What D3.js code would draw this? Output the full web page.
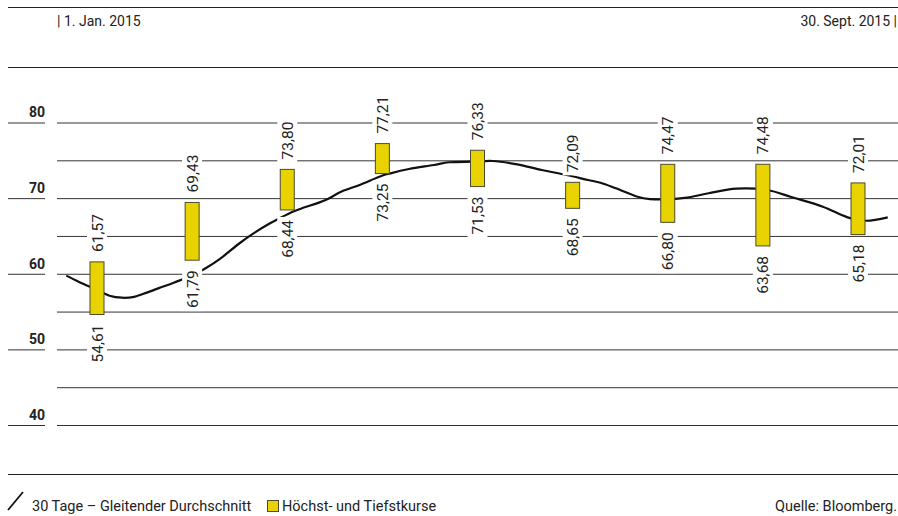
<!DOCTYPE html>
<html>
<head>
<meta charset="utf-8">
<script src="https://cdn.jsdelivr.net/npm/d3@7"></script>
<style>
  body { margin: 0; background: #fff; }
  text { font-family: Roboto, "Noto Sans", sans-serif; fill: #222; }
</style>
</head>
<body>
<script>

var width  = 898;
var height = 516;

// monthly high / low prices
var months = ['Jan', 'Feb', 'Mar', 'Apr', 'May', 'Jun', 'Jul', 'Aug', 'Sep'];
var highs  = [61.57, 69.43, 73.80, 77.21, 76.33, 72.09, 74.47, 74.48, 72.01];
var lows   = [54.61, 61.79, 68.44, 73.25, 71.53, 68.65, 66.80, 63.68, 65.18];

// 30 day moving average
var avgDates = ['2015-01-04', '2015-01-08', '2015-01-14', '2015-01-18', '2015-01-22', '2015-01-26',
                '2015-01-29', '2015-02-03', '2015-02-08', '2015-02-14', '2015-02-18', '2015-02-23',
                '2015-03-01', '2015-03-06', '2015-03-11', '2015-03-17', '2015-03-21', '2015-03-29',
                '2015-04-03', '2015-04-09', '2015-04-16', '2015-04-19', '2015-04-25', '2015-05-03',
                '2015-05-08', '2015-05-16', '2015-05-22', '2015-05-30', '2015-06-07', '2015-06-15',
                '2015-06-22', '2015-06-26', '2015-07-01', '2015-07-08', '2015-07-12', '2015-07-18',
                '2015-07-24', '2015-07-31', '2015-08-09', '2015-08-19', '2015-08-27', '2015-09-06',
                '2015-09-14', '2015-09-20', '2015-09-27'];
var avgValues = [59.75, 58.95, 57.85, 57.10, 56.83, 56.95,
                 57.35, 58.10, 58.85, 59.83, 60.70, 62.04,
                 64.00, 65.43, 66.67, 67.95, 68.60, 69.75,
                 70.85, 71.74, 72.93, 73.28, 73.85, 74.38,
                 74.74, 74.82, 74.91, 74.47, 73.72, 73.06,
                 72.40, 72.04, 71.30, 70.19, 69.88, 69.84,
                 70.06, 70.64, 71.25, 71.07, 70.11, 68.87,
                 67.46, 67.01, 67.46];

var yTicks = [40, 45, 50, 55, 60, 65, 70, 75, 80];

var periodStart = '1. Jan. 2015';
var periodEnd   = '30. Sept. 2015';


var parse = d3.timeParse('%Y-%m-%d');

var svg = d3.select('body')
            .append('svg')
            .attr('width', width)
            .attr('height', height);

var x = d3.scalePoint().domain(months).range([97, 858]);
var xTime = d3.scaleTime()
              .domain([new Date(2015, 0, 1), new Date(2015, 8, 30)])
              .range([57, 897]);
var y = d3.scaleLinear().domain([40, 80]).range([425, 122.5]);

// frame lines
[7.5, 67.5, 474.5].forEach(function(ly) {
  svg.append('line')
     .attr('x1', 8).attr('x2', width)
     .attr('y1', ly).attr('y2', ly)
     .attr('stroke', '#222').attr('stroke-width', 1.2);
});

// header
svg.append('text').attr('x', 57).attr('y', 26)
   .style('font-size', '14px').text('| ' + periodStart);
svg.append('text').attr('x', 897).attr('y', 26)
   .attr('text-anchor', 'end')
   .style('font-size', '14px').text(periodEnd + ' |');

// grid + y axis
var yAxis = d3.axisLeft(y)
              .tickValues(yTicks)
              .tickSize(width - 57)
              .tickPadding(12)
              .tickFormat(function(d) { return d % 10 === 0 ? d : ''; });

var gy = svg.append('g')
            .attr('transform', 'translate(' + width + ',0)')
            .call(yAxis);
gy.select('.domain').remove();
gy.selectAll('.tick line').attr('stroke', '#333');
gy.selectAll('.tick text')
  .attr('dy', '-0.4em')
  .style('font-family', 'Roboto, sans-serif')
  .style('font-size', '14px')
  .style('font-weight', 'bold')
  .attr('fill', '#222');

// short underline under each labelled tick
svg.selectAll('.labelline')
   .data(yTicks.filter(function(d) { return d % 10 === 0; }))
   .enter()
   .append('line')
   .attr('x1', 8).attr('x2', 45)
   .attr('y1', function(d) { return y(d) + 0.5; })
   .attr('y2', function(d) { return y(d) + 0.5; })
   .attr('stroke', '#333');

// moving average line
var avg = avgDates.map(function(d, i) { return { date: parse(d), value: avgValues[i] }; });
var line = d3.line()
             .x(function(d) { return xTime(d.date); })
             .y(function(d) { return y(d.value); })
             .curve(d3.curveCatmullRom);

svg.append('path')
   .datum(avg)
   .attr('d', line)
   .attr('fill', 'none')
   .attr('stroke', '#111')
   .attr('stroke-width', 2.2);

// bars
var bars = months.map(function(m, i) { return { month: m, high: highs[i], low: lows[i] }; });
var barW = 14;

svg.selectAll('rect.bar')
   .data(bars)
   .enter()
   .append('rect')
   .attr('class', 'bar')
   .attr('x', function(d) { return x(d.month) - barW / 2; })
   .attr('y', function(d) { return y(d.high); })
   .attr('width', barW)
   .attr('height', function(d) { return y(d.low) - y(d.high); })
   .attr('fill', '#e8d300')
   .attr('stroke', '#4d4a30')
   .attr('stroke-width', 1);

// value labels, rotated, on white background
var fmt = function(v) { return v.toFixed(2).replace('.', ','); };

function addLabel(cx, yEdge, value, above) {
  var g = svg.append('g');
  var bg = g.append('rect').attr('fill', '#fff');
  var gap = 10;
  var ty = above ? yEdge - gap : yEdge + gap;
  var t = g.append('text')
           .attr('transform', 'translate(' + cx + ',' + ty + ') rotate(-90)')
           .attr('text-anchor', above ? 'start' : 'end')
           .attr('dy', '0.36em')
           .style('font-size', '15.5px')
           .text(fmt(value));
  var len = t.node().getComputedTextLength();
  bg.attr('x', cx - 10).attr('width', 20)
    .attr('y', above ? ty - len - 3 : ty - 3)
    .attr('height', len + 6);
}

bars.forEach(function(d) {
  addLabel(x(d.month), y(d.high), d.high, true);
  addLabel(x(d.month), y(d.low),  d.low,  false);
});

// legend
svg.append('line')
   .attr('x1', 8).attr('y1', 510).attr('x2', 23).attr('y2', 492)
   .attr('stroke', '#111').attr('stroke-width', 1.8);
svg.append('text').attr('x', 32).attr('y', 511)
   .style('font-size', '14.5px').text('30 Tage – Gleitender Durchschnitt');
svg.append('rect')
   .attr('x', 267.5).attr('y', 500.5).attr('width', 11).attr('height', 11)
   .attr('fill', '#e8d300').attr('stroke', '#4d4a30');
svg.append('text').attr('x', 282).attr('y', 511)
   .style('font-size', '14.5px').text('Höchst- und Tiefstkurse');
svg.append('text').attr('x', 897).attr('y', 511)
   .attr('text-anchor', 'end')
   .style('font-size', '14.5px').text('Quelle: Bloomberg.');

</script>
</body>
</html>
